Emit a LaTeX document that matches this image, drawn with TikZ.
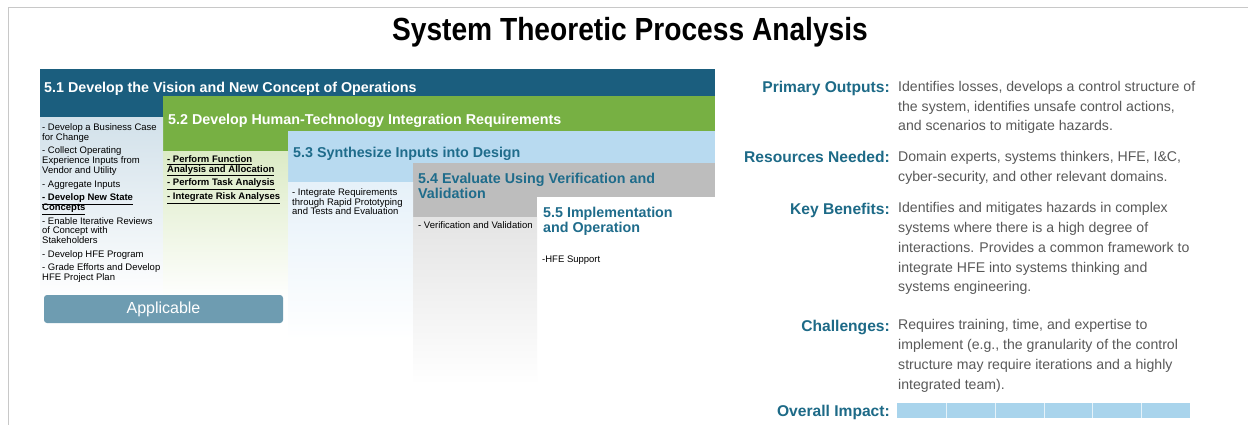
\documentclass[tikz,border=0pt]{standalone}
\usepackage{fontspec}
\setmainfont{Liberation Sans}
\newfontfamily\narrowfont{Liberation Sans}[FakeStretch=0.88]
\usetikzlibrary{positioning}
\definecolor{frame}{HTML}{C8C8C8}
\definecolor{stepdark}{HTML}{1B5E7E}
\definecolor{stepgreen}{HTML}{77B043}
\definecolor{steplight}{HTML}{B8DAF0}
\definecolor{stepgray}{HTML}{BDBDBD}
\definecolor{bodyblue}{HTML}{D2E1EA}
\definecolor{bodygreen}{HTML}{DCEBC6}
\definecolor{bodylight}{HTML}{E6F1F9}
\definecolor{bodygrayfill}{HTML}{E4E4E4}
\definecolor{titleteal}{HTML}{1F6C8B}
\definecolor{labelteal}{HTML}{1D6A87}
\definecolor{bodygray}{HTML}{595959}
\definecolor{applic}{HTML}{6E9CB1}
\definecolor{impact}{HTML}{A9D4EC}
\setlength{\lineskiplimit}{-5pt}

\begin{document}
\begin{tikzpicture}[x=1pt, y=-1pt,
    stepbar/.style={fill=#1, draw=none},
    steptitle/.style={anchor=north west, inner sep=0pt, align=left, font=\fontsize{14.3}{15}\selectfont\bfseries},
    itemlist/.style={anchor=north west, inner sep=0pt, align=left, font=\fontsize{9.5}{9.7}\selectfont},
    infolabel/.style={anchor=north east, inner sep=0pt, font=\fontsize{15.6}{19.7}\selectfont\bfseries, text=labelteal},
    infotext/.style={anchor=north west, inner sep=0pt, align=left, font=\fontsize{14.1}{19.7}\selectfont, text=bodygray},
]
    \useasboundingbox (0,0) rectangle (1248,425);
    \fill[white] (0,0) rectangle (1248,425);
    \draw[frame, line width=0.8pt] (8,425) -- (8,7) -- (1248,7);

    % Title
    \node[font=\narrowfont\bfseries\fontsize{32}{36}\selectfont] (title) at (630,32) {System Theoretic Process Analysis};

    % Step bars (each one drawn over the previous)
    \fill[stepbar=stepdark] (40,69) rectangle (715,118);
    \fill[stepbar=stepgreen] (163,96) rectangle (715,152);
    \fill[stepbar=steplight] (288,131) rectangle (715,183);
    \fill[stepbar=stepgray] (413,163) rectangle (715,217);
    \fill[stepbar=white] (537,197) rectangle (715,330);

    % Column bodies
    \shade[top color=bodyblue, bottom color=white] (40,118) rectangle (163,300);
    \shade[top color=bodygreen, bottom color=white] (163,152) rectangle (288,300);
    \shade[top color=bodylight, bottom color=white] (288,183) rectangle (413,340);
    \shade[top color=bodygrayfill, bottom color=white] (413,217) rectangle (537,385);

    % Step titles
    \node[steptitle, text=white] (h51) at (44,81.5) {5.1 Develop the Vision and New Concept of Operations};
    \node[steptitle, text=white] (h52) at (168,113.5) {5.2 Develop Human-Technology Integration Requirements};
    \node[steptitle, text=titleteal] (h53) at (293,146.5) {5.3 Synthesize Inputs into Design};
    \node[steptitle, text=titleteal] (h54) at (418,172.5) {5.4 Evaluate Using Verification and\\Validation};
    \node[steptitle, text=titleteal] (h55) at (543,206.5) {5.5 Implementation\\and Operation};

    % Activities
    \node[itemlist] (c1) at (42,123.5) {- Develop a Business Case\\for Change\\[4pt]
        - Collect Operating\\Experience Inputs from\\Vendor and Utility\\[4pt]
        - Aggregate Inputs\\[4pt]
        \textbf{\underline{- Develop New State}}\\\textbf{\underline{Concepts}}\\[4pt]
        - Enable Iterative Reviews\\of Concept with\\Stakeholders\\[4pt]
        - Develop HFE Program\\[4pt]
        - Grade Efforts and Develop\\HFE Project Plan};
    \node[itemlist] (c2) at (167,155.5) {\textbf{\underline{- Perform Function}}\\\textbf{\underline{Analysis and Allocation}}\\[4pt]
        \textbf{\underline{- Perform Task Analysis}}\\[4pt]
        \textbf{\underline{- Integrate Risk Analyses}}};
    \node[itemlist] (c3) at (292,188.5) {- Integrate Requirements\\through Rapid Prototyping\\and Tests and Evaluation};
    \node[itemlist] (c4) at (418,221.5) {- Verification and Validation};
    \node[itemlist] (c5) at (542,255.5) {-HFE Support};

    % Applicable button
    \node[fill=applic, rounded corners=3pt, minimum width=239pt, minimum height=28pt, inner sep=0pt,
        text=white, font=\fontsize{16}{18}\selectfont] (applicable) at (163.5,309) {Applicable};

    % Summary
    \node[infolabel] (lout) at (890,81) {Primary Outputs:};
    \node[infotext] (tout) at (898,81) {Identifies losses, develops a control structure of\\the system, identifies unsafe control actions,\\and scenarios to mitigate hazards.};
    \node[infolabel] (lres) at (890,151) {Resources Needed:};
    \node[infotext] (tres) at (898,151) {Domain experts, systems thinkers, HFE, I\&C,\\cyber-security, and other relevant domains.};
    \node[infolabel] (lben) at (890,202.5) {Key Benefits:};
    \node[infotext] (tben) at (898,202.5) {Identifies and mitigates hazards in complex\\systems where there is a high degree of\\interactions. Provides a common framework to\\integrate HFE into systems thinking and\\systems engineering.};
    \node[infolabel] (lcha) at (890,319.5) {Challenges:};
    \node[infotext] (tcha) at (898,319.5) {Requires training, time, and expertise to\\implement (e.g., the granularity of the control\\structure may require iterations and a highly\\integrated team).};
    \node[infolabel] (limp) at (890,404.5) {Overall Impact:};

    % Impact bar
    \node[fill=impact, minimum width=293pt, minimum height=15pt, inner sep=0pt, anchor=west] (bar) at (897,410.5) {};
    \foreach \xs in {946,995,1044,1092,1141}
        \draw[white!70!impact, line width=1pt] (\xs,403) -- (\xs,418);
\end{tikzpicture}
\end{document}
